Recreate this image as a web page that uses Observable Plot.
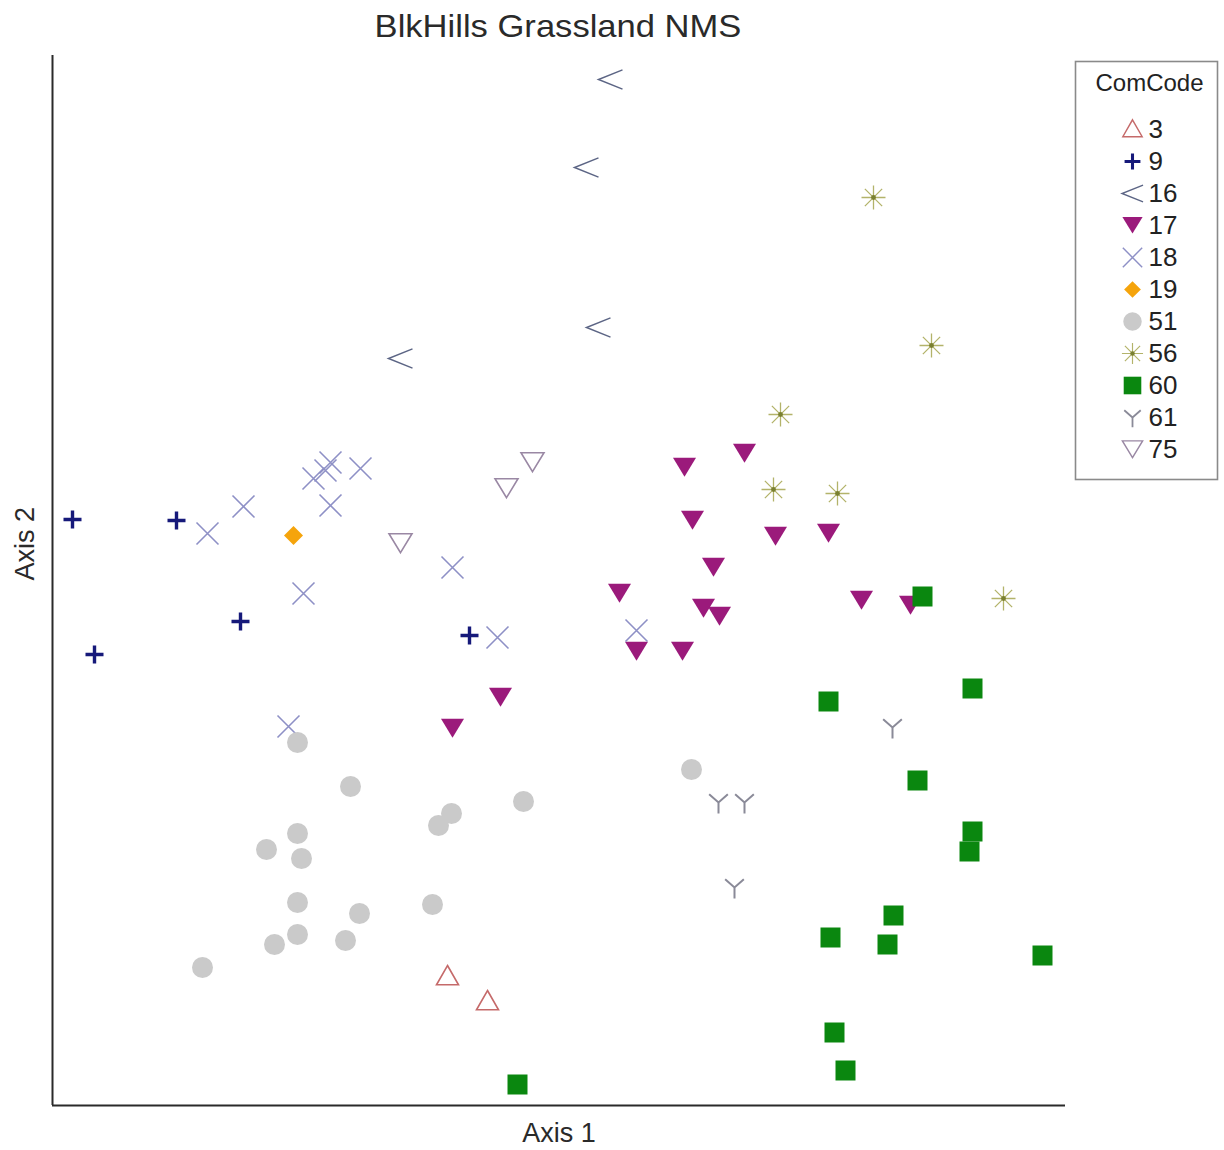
<!DOCTYPE html>
<html>
<head>
<meta charset="utf-8">
<script src="https://cdn.jsdelivr.net/npm/d3@7"></script>
<script src="https://cdn.jsdelivr.net/npm/@observablehq/plot@0.6"></script>
<style>
  html, body { margin: 0; padding: 0; background: #fff; }
  body { width: 1224px; height: 1150px; position: relative; overflow: hidden; font-family: "Liberation Sans", Arial, sans-serif; }
  #title { position: relative; height: 50px; }
  #title span { position: absolute; left: 558px; top: 8px; transform: translateX(-50%) scaleX(1.08); font-size: 32px; color: #2a2a2a; white-space: nowrap; }
  #legend { position: absolute; left: 1075px; top: 61px; }
</style>
</head>
<body>
<div id="title"><span>BlkHills Grassland NMS</span></div>
<div id="chart"></div>
<div id="legend"></div>
<script>
// NMS scores (arbitrary units), [axis1, axis2]
const com3  = [[395,129],[435,104]];
const com9  = [[20,586],[124,585],[188,484],[42,451],[417,470]];
const com16 = [[558,1026],[534,938],[546,778],[348,747]];
const com17 = [[632,638],[692,652],[640,585],[723,569],[776,572],[661,538],[567,512],[651,497],[667,489],[584,454],[630,454],[809,505],[858,500],[448,408],[400,377]];
const com18 = [[155,572],[191,599],[251,512],[261,627],[273,635],[278,643],[308,637],[278,600],[400,538],[445,468],[584,475],[236,379]];
const com19 = [[241,570]];
const com51 = [[245,363],[298,319],[245,272],[214,256],[249,247],[245,203],[307,192],[245,171],[222,161],[293,165],[399,292],[386,280],[471,304],[380,201],[150,138],[639,336]];
const com56 = [[821,908],[879,760],[728,691],[721,616],[785,612],[951,507]];
const com60 = [[870,509],[776,404],[920,417],[865,325],[920,274],[917,254],[841,190],[778,168],[835,161],[990,150],[782,73],[793,35],[465,21]];
const com61 = [[840,378],[666,303],[692,303],[682,218]];
const com75 = [[348,562],[454,617],[480,643]];

const codes = ["3","9","16","17","18","19","51","56","60","61","75"];
const groups = [com3, com9, com16, com17, com18, com19, com51, com56, com60, com61, com75];

// custom symbol shapes (size = r*r*PI)
const R = s => Math.sqrt(s / Math.PI);
const symTriUp = {draw(c, s){const r=R(s); c.moveTo(0,-r); c.lineTo(r*1.0, r*0.75); c.lineTo(-r*1.0, r*0.75); c.closePath();}};
const symTriDown = {draw(c, s){const r=R(s); c.moveTo(0,r*0.8); c.lineTo(r, -r*0.85); c.lineTo(-r, -r*0.85); c.closePath();}};
const symPlus = {draw(c, s){const r=R(s); c.moveTo(-r,0); c.lineTo(r,0); c.moveTo(0,-r); c.lineTo(0,r);}};
const symLess = {draw(c, s){const r=R(s); c.moveTo(r,-r*0.8); c.lineTo(-r,0); c.lineTo(r,r*0.8);}};
const symTimes = {draw(c, s){const r=R(s); c.moveTo(-r,-r); c.lineTo(r,r); c.moveTo(r,-r); c.lineTo(-r,r);}};
const symDiamond = {draw(c, s){const r=R(s); c.moveTo(0,-r); c.lineTo(r,0); c.lineTo(0,r); c.lineTo(-r,0); c.closePath();}};
const symCircle = {draw(c, s){const r=R(s); c.moveTo(r,0); c.arc(0,0,r,0,2*Math.PI);}};
const symAsterisk = {draw(c, s){const r=R(s); const d=r*0.72; c.moveTo(-r,0); c.lineTo(r,0); c.moveTo(0,-r); c.lineTo(0,r); c.moveTo(-d,-d); c.lineTo(d,d); c.moveTo(d,-d); c.lineTo(-d,d);}};
const symSquare = {draw(c, s){const r=R(s); c.rect(-r,-r,2*r,2*r);}};
const symWye = {draw(c, s){const r=R(s); c.moveTo(-r*0.85,-r*0.75); c.lineTo(0,0); c.lineTo(r*0.85,-r*0.75); c.moveTo(0,0); c.lineTo(0,r);}};
const symDot = {draw(c, s){const r=R(s); c.moveTo(r,0); c.arc(0,0,r,0,2*Math.PI);}};

const styles = {
  "3":  {symbol: symTriUp,   fill: "none",    stroke: "#c56a6a", strokeWidth: 1.6, r: 11},
  "9":  {symbol: symPlus,    fill: "none",    stroke: "#16197a", strokeWidth: 3.4, r: 9},
  "16": {symbol: symLess,    fill: "none",    stroke: "#5c6585", strokeWidth: 1.5, r: 12},
  "17": {symbol: symTriDown, fill: "#9b1a7b", stroke: "none",    strokeWidth: 0,   r: 11.5},
  "18": {symbol: symTimes,   fill: "none",    stroke: "#8e90c6", strokeWidth: 1.6, r: 11},
  "19": {symbol: symDiamond, fill: "#f5a40c", stroke: "none",    strokeWidth: 0,   r: 9.5},
  "51": {symbol: symCircle,  fill: "#cacaca", stroke: "none",    strokeWidth: 0,   r: 10.5},
  "56": {symbol: symAsterisk,fill: "none",    stroke: "#b3b36a", strokeWidth: 1.3, r: 12},
  "60": {symbol: symSquare,  fill: "#0a870f", stroke: "none",    strokeWidth: 0,   r: 10},
  "61": {symbol: symWye,     fill: "none",    stroke: "#8a8a98", strokeWidth: 2,   r: 11},
  "75": {symbol: symTriDown, fill: "none",    stroke: "#9a88a4", strokeWidth: 1.6, r: 11.5}
};

const marks = [
  Plot.ruleX([0], {stroke: "#2a2a2a", strokeWidth: 2}),
  Plot.ruleY([0], {stroke: "#2a2a2a", strokeWidth: 2}),
  Plot.text(["Axis 1"], {frameAnchor: "bottom", dy: 28, lineAnchor: "middle", fontSize: 27, fill: "#2a2a2a"}),
  Plot.text(["Axis 2"], {frameAnchor: "left", dx: -27, rotate: -90, lineAnchor: "middle", fontSize: 27, fill: "#2a2a2a"})
];
codes.forEach((code, i) => {
  const st = styles[code];
  marks.push(Plot.dot(groups[i], {x: d => d[0], y: d => d[1], symbol: st.symbol, r: st.r, fill: st.fill, stroke: st.stroke, strokeWidth: st.strokeWidth}));
  if (code === "56") marks.push(Plot.dot(groups[i], {x: d => d[0], y: d => d[1], symbol: symDot, r: 2.4, fill: "#7a8030"}));
});

const chart = Plot.plot({
  width: 1224,
  height: 1100,
  marginLeft: 52,
  marginRight: 159,
  marginTop: 5,
  marginBottom: 45,
  x: {domain: [0, 1013], axis: null},
  y: {domain: [0, 1050], axis: null},
  style: {background: "white", fontFamily: "'Liberation Sans', Arial, sans-serif"},
  marks
});
document.getElementById("chart").appendChild(chart);

// legend
const legendMarks = [
  Plot.frame({stroke: "#8a8a8a", strokeWidth: 1.6}),
  Plot.text(["ComCode"], {frameAnchor: "top", dy: 22, dx: 3, lineAnchor: "middle", fontSize: 24, fill: "#222"})
];
codes.forEach(code => {
  const st = styles[code];
  const scale = 0.88;
  legendMarks.push(Plot.dot([code], {y: d => d, dx: -14, symbol: st.symbol, r: st.r * scale, fill: st.fill, stroke: st.stroke, strokeWidth: st.strokeWidth * 0.9}));
  if (code === "56") legendMarks.push(Plot.dot([code], {y: d => d, dx: -14, symbol: symDot, r: 2.2, fill: "#7a8030"}));
  legendMarks.push(Plot.text([code], {y: d => d, dx: 2, text: d => d, textAnchor: "start", fontSize: 26, fill: "#222"}));
});
const legend = Plot.plot({
  width: 142,
  height: 418,
  margin: 0,
  y: {type: "point", domain: codes, range: [63, 392], padding: 0, axis: null},
  style: {background: "white", fontFamily: "'Liberation Sans', Arial, sans-serif", overflow: "visible"},
  marks: legendMarks
});
document.getElementById("legend").appendChild(legend);
</script>
</body>
</html>
